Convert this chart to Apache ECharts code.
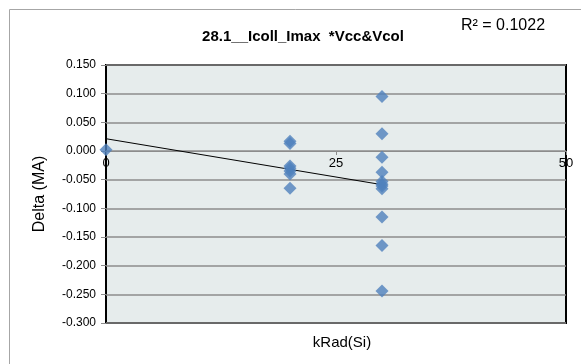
<!DOCTYPE html>
<html><head><meta charset="utf-8">
<script src="https://cdn.jsdelivr.net/npm/echarts@6/dist/echarts.min.js"></script>
<style>html,body{margin:0;padding:0;background:#fff}#c{width:581px;height:364px}</style>
</head><body><div id="c"></div>
<script>
const xValues = [0, 20,20,20,20,20,20,20, 30,30,30,30,30,30,30,30,30,30,30];
const yValues = [0.002, 0.017,0.013,-0.026,-0.030,-0.035,-0.040,-0.065,
  0.095,0.030,-0.011,-0.037,-0.053,-0.058,-0.061,-0.066,-0.115,-0.165,-0.244];
const xTicks = [0, 25, 50];
const yTicks = [-0.300,-0.250,-0.200,-0.150,-0.100,-0.050,0.000,0.050,0.100,0.150];
const titleText = '28.1__Icoll_Imax  *Vcc&Vcol';
const r2Text = 'R² = 0.1022';
const xName = 'kRad(Si)';
const yName = 'Delta (MA)';

// linear regression for trendline
const n = xValues.length;
const mx = xValues.reduce((a,b)=>a+b,0)/n;
const my = yValues.reduce((a,b)=>a+b,0)/n;
let sxx=0, sxy=0;
for (let i=0;i<n;i++){ sxx+=(xValues[i]-mx)**2; sxy+=(xValues[i]-mx)*(yValues[i]-my); }
const slope = sxy/sxx, intercept = my - slope*mx;
const xMinD = Math.min(...xValues), xMaxD = Math.max(...xValues);
const trend = [[xMinD, intercept+slope*xMinD],[xMaxD, intercept+slope*xMaxD]];

const gridTop = 65, gridBottom = 41, H = 364;
const plotH = H - gridTop - gridBottom;
const yMin = yTicks[0], yMax = yTicks[yTicks.length-1];
// place x axis at y = 0 (Excel "crosses at 0")
const zeroFromBottom = (0 - yMin) / (yMax - yMin) * plotH;

const chart = echarts.init(document.getElementById('c'));
const font = '"Liberation Sans", Arial, sans-serif';
chart.setOption({
  animation:false,
  backgroundColor:'#fff',
  textStyle:{fontFamily:font},
  graphic:[{type:'rect', shape:{x:9.5,y:9.5,width:700,height:700}, style:{fill:'none',stroke:'#a6a6a6',lineWidth:1}, z:-10}],
  title:[
    {text:titleText, left:298, top:24, textAlign:'center', textStyle:{fontSize:15,fontWeight:'bold',color:'#000',fontFamily:font}},
    {text:r2Text, left:456, top:13, textStyle:{fontSize:16,fontWeight:'normal',color:'#000',fontFamily:font}},
    {text:xName, left:337, top:330, textAlign:'center', textStyle:{fontSize:15,fontWeight:'normal',color:'#000',fontFamily:font}}
  ],
  grid:{left:106, right:15, top:gridTop, bottom:gridBottom, show:true, backgroundColor:'#e6ecec', borderColor:'#000', borderWidth:2},
  xAxis:{type:'value', min:xTicks[0], max:xTicks[xTicks.length-1], interval:25,
    position:'bottom', offset:-zeroFromBottom,
    axisLine:{show:true, onZero:false, lineStyle:{color:'#8c8c8c', width:1}},
    axisTick:{show:true, inside:false, length:4, lineStyle:{color:'#8c8c8c'}},
    axisLabel:{show:true, color:'#000', fontSize:13, margin:6, fontFamily:font},
    splitLine:{show:false}},
  yAxis:{type:'value', min:yMin, max:yMax, interval:0.05,
    name:yName, nameLocation:'middle', nameGap:58, nameTextStyle:{fontSize:16,color:'#000',fontFamily:font},
    axisLine:{show:false},
    axisTick:{show:true, length:5, lineStyle:{color:'#8c8c8c'}},
    axisLabel:{color:'#000', fontSize:12, margin:10, fontFamily:font, formatter:v=>v.toFixed(3)},
    splitLine:{show:true, lineStyle:{color:'#8c8c8c', width:1.5}}},
  series:[
    {type:'line', data:trend, showSymbol:false, symbol:'none', lineStyle:{color:'#000', width:1}, z:3},
    {type:'scatter', data:xValues.map((x,i)=>[x,yValues[i]]), symbol:'diamond', symbolSize:[13,13],
      itemStyle:{color:'#4f81bd'}, z:4}
  ]
});
</script></body></html>
